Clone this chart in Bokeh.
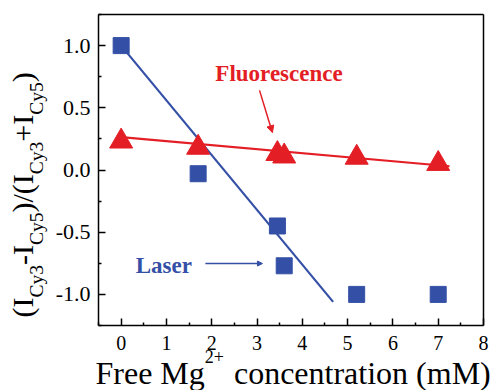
import numpy as np
from bokeh.plotting import figure
from bokeh.models import (Label, Arrow, NormalHead, FixedTicker, PrintfTickFormatter,
                          Range1d, LinearAxis)
from bokeh.embed import file_html
from bokeh.resources import INLINE

# ---------------- data ----------------
laser_x = [0.0, 1.7, 3.45, 3.6, 5.2, 7.0]
laser_y = [1.0, -0.03, -0.45, -0.77, -1.0, -1.0]
fluor_x = [0.0, 1.7, 3.45, 3.6, 5.2, 7.0]
fluor_y = [0.23, 0.18, 0.13, 0.11, 0.10, 0.05]
laser_fit_x = [0.0, 4.68]
laser_fit_y = [1.0, -1.06]
fluor_fit_x = [0.0, 7.25]
fluor_fit_y = [0.265, 0.03]
x_ticks = [0, 1, 2, 3, 4, 5, 6, 7, 8]
x_minor = [-0.5, 0.5, 1.5, 2.5, 3.5, 4.5, 5.5, 6.5, 7.5]
y_ticks = [-1.0, -0.5, 0.0, 0.5, 1.0]
y_minor = [-1.25, -0.75, -0.25, 0.25, 0.75, 1.25]
x_lim = (-0.5, 8.0)
y_lim = (-1.25, 1.25)

RED = "#e31e25"
BLUE = "#3450a6"
FONT = "Liberation Serif"

W, H = 491, 390
# plot box position in the canvas (pixels)
BOX_L, BOX_R, BOX_T, BOX_B = 98, 483, 14, 325
sx = (x_lim[1] - x_lim[0]) / (BOX_R - BOX_L)
sy = (y_lim[1] - y_lim[0]) / (BOX_B - BOX_T)
xr = Range1d(x_lim[0] - BOX_L * sx, x_lim[1] + (W - BOX_R) * sx)
yr = Range1d(y_lim[0] - (H - BOX_B) * sy, y_lim[1] + BOX_T * sy)

# baseline correction of Bokeh's label placement (fraction of font size)
BL = 0.32

# Times-metric advance widths (per 1000 em)
TIMES = {" ": 250, "(": 333, ")": 333, "/": 278, "+": 564, "-": 333, "I": 333,
         "C": 667, "y": 500, "3": 500, "5": 500, "2": 500, "F": 556, "r": 333,
         "e": 444, "M": 889, "g": 500, "c": 444, "o": 500, "n": 500, "t": 278,
         "a": 444, "i": 278, "m": 778}


def tw(s, size):
    return sum(TIMES[c] for c in s) / 1000.0 * size


p = figure(width=W, height=H, x_range=xr, y_range=yr,
           output_backend="svg", toolbar_location=None, min_border=0)
p.grid.visible = False
p.outline_line_color = None
p.background_fill_color = "white"
p.border_fill_color = "white"

xa = p.xaxis[0]
ya = p.yaxis[0]
xa.fixed_location = y_lim[0]
xa.bounds = x_lim
ya.fixed_location = x_lim[0]
ya.bounds = y_lim
for ax in (xa, ya):
    ax.axis_line_color = "black"
    ax.axis_line_width = 1.5
    ax.major_tick_line_width = 1.5
    ax.minor_tick_line_width = 1.5
    ax.major_tick_in = 7
    ax.major_tick_out = 0
    ax.minor_tick_in = 3
    ax.minor_tick_out = 0
    ax.major_label_text_font = FONT
    ax.major_label_text_color = "black"
xa.major_label_text_font_size = "20px"
ya.major_label_text_font_size = "22px"
xa.ticker = FixedTicker(ticks=x_ticks, minor_ticks=x_minor)
ya.ticker = FixedTicker(ticks=y_ticks, minor_ticks=y_minor)
ya.formatter = PrintfTickFormatter(format="%.1f")
xa.major_label_standoff = 10
ya.major_label_standoff = 8

# top and right box lines
top = LinearAxis(fixed_location=y_lim[1], bounds=x_lim, ticker=FixedTicker(ticks=[]),
                 axis_line_width=1.5, axis_line_color="black")
right = LinearAxis(fixed_location=x_lim[1], bounds=y_lim, ticker=FixedTicker(ticks=[]),
                   axis_line_width=1.5, axis_line_color="black")
p.add_layout(top, "above")
p.add_layout(right, "right")

# fit lines
p.line(laser_fit_x, laser_fit_y, line_color=BLUE, line_width=2.2)
p.line(fluor_fit_x, fluor_fit_y, line_color=RED, line_width=2.2)

# markers
p.scatter(laser_x, laser_y, marker="square", size=16, fill_color=BLUE, line_color=BLUE)
p.scatter(fluor_x, fluor_y, marker="triangle", size=23, fill_color=RED, line_color=RED)

# annotations
ANN = 23
p.add_layout(Label(x=2.08, y=0.72 + BL * ANN * sy, text="Fluorescence", text_font=FONT,
                   text_font_style="bold", text_font_size=f"{ANN}px", text_color=RED,
                   text_baseline="alphabetic"))
p.add_layout(Arrow(end=NormalHead(size=7, fill_color=RED, line_color=RED, line_width=1),
                   x_start=3.055, y_start=0.64, x_end=3.34, y_end=0.30,
                   line_color=RED, line_width=1.5))
p.add_layout(Label(x=0.32, y=-0.824 + BL * ANN * sy, text="Laser", text_font=FONT,
                   text_font_style="bold", text_font_size=f"{ANN}px", text_color=BLUE,
                   text_baseline="alphabetic"))
p.add_layout(Arrow(end=NormalHead(size=5, fill_color=BLUE, line_color=BLUE, line_width=1),
                   x_start=1.86, y_start=-0.752, x_end=3.12, y_end=-0.752,
                   line_color=BLUE, line_width=1.5))

# y axis label composed of pieces (rotated), screen units relative to the canvas
MAIN, SUB = 30, 19.5
pieces = [("(I", MAIN), ("Cy3", SUB), ("-I", MAIN), ("Cy5", SUB), (")/(I", MAIN),
          ("Cy3", SUB), ("+I", MAIN), ("Cy5", SUB), (")", MAIN)]
pos = H - 317.0
for txt, size in pieces:
    base = 32 if size == MAIN else 42
    p.add_layout(Label(x=base - BL * size, y=pos, x_units="screen", y_units="screen", text=txt,
                       angle=np.pi / 2, text_font=FONT, text_font_size=f"{size}px",
                       text_baseline="alphabetic", text_align="left", text_color="black"))
    pos += tw(txt, size)

# x axis label composed of pieces
XM, XS = 32, 18
xb = H - 383
x0 = 95.0
p.add_layout(Label(x=x0, y=xb + BL * XM, x_units="screen", y_units="screen", text="Free Mg",
                   text_font=FONT, text_font_size=f"{XM}px", text_baseline="alphabetic",
                   text_color="black"))
x1 = x0 + tw("Free Mg", XM)
p.add_layout(Label(x=x1, y=xb + 21 + BL * XS, x_units="screen", y_units="screen", text="2+",
                   text_font=FONT, text_font_size=f"{XS}px", text_baseline="alphabetic",
                   text_color="black"))
x2 = x1 + tw("2+", XS) + tw(" ", XM) + 2
p.add_layout(Label(x=x2, y=xb + BL * XM, x_units="screen", y_units="screen",
                   text="concentration (mM)", text_font=FONT, text_font_size=f"{XM}px",
                   text_baseline="alphabetic", text_color="black"))

open("out.html", "w").write(file_html(p, INLINE))
